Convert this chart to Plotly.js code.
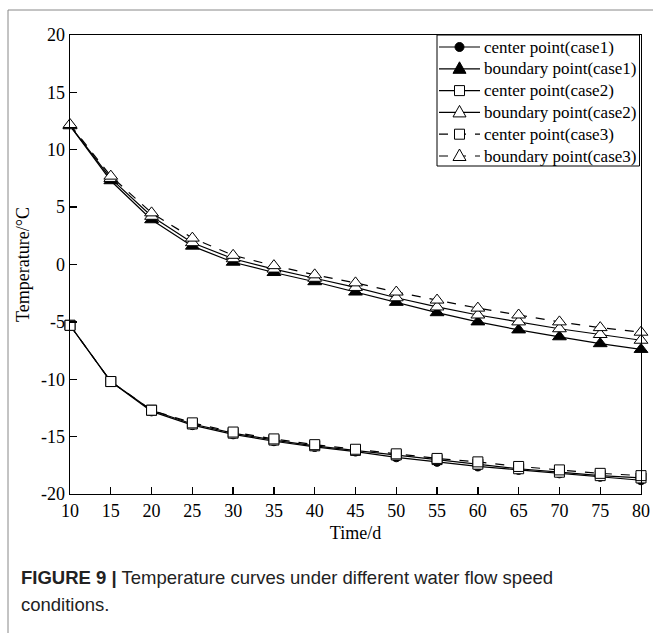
<!DOCTYPE html>
<html><head><meta charset="utf-8">
<script src="https://cdn.plot.ly/plotly-3.0.1.min.js"></script>
<style>html,body{margin:0;padding:0;background:#fff;}#chart{width:653px;height:633px;}</style>
</head><body><div id="chart"></div>
<script>
const days = [10,15,20,25,30,35,40,45,50,55,60,65,70,75,80];
const centerCase1 = [-5.3,-10.2,-12.8,-14.0,-14.8,-15.4,-15.9,-16.3,-16.8,-17.2,-17.6,-17.9,-18.2,-18.5,-18.8];
const boundaryCase1 = [12.1,7.3,3.9,1.6,0.2,-0.7,-1.5,-2.4,-3.3,-4.2,-5.0,-5.7,-6.3,-6.9,-7.4];
const centerCase2 = [-5.3,-10.2,-12.7,-13.9,-14.7,-15.3,-15.8,-16.2,-16.6,-17.0,-17.4,-17.8,-18.1,-18.4,-18.6];
const boundaryCase2 = [12.1,7.5,4.2,1.9,0.5,-0.4,-1.2,-2.0,-2.9,-3.7,-4.4,-5.0,-5.6,-6.1,-6.6];
const centerCase3 = [-5.3,-10.2,-12.7,-13.8,-14.6,-15.2,-15.7,-16.1,-16.5,-16.9,-17.2,-17.6,-17.9,-18.2,-18.4];
const boundaryCase3 = [12.2,7.7,4.5,2.3,0.8,-0.1,-0.9,-1.6,-2.4,-3.1,-3.8,-4.4,-5.0,-5.5,-5.9];
const seriesNames = ['center point(case1)','boundary point(case1)','center point(case2)','boundary point(case2)','center point(case3)','boundary point(case3)'];
const seriesSymbols = ['circle','triangle-up','square','triangle-up','square','triangle-up'];
const seriesFills = ['#000','#000','#fff','#fff','#fff','#fff'];
const seriesDash = ['solid','solid','solid','solid','dash','dash'];
const xTicks = [10,15,20,25,30,35,40,45,50,55,60,65,70,75,80];
const yTickVals = [-20,-15,-10,-5,0,5,10,15,20];
const yTickText = ['-20','-15','-10','-5','0','5','10','15','20'];
const xTitle = 'Time/d';
const yTitle = 'Temperature/°C';
const captionLine1 = '<b>FIGURE 9 |</b> Temperature curves under different water flow speed';
const captionLine2 = 'conditions.';

const seriesValues = [centerCase1, boundaryCase1, centerCase2, boundaryCase2, centerCase3, boundaryCase3];
const markerSize = {'circle':9, 'triangle-up':12, 'square':10};

const data = seriesValues.map((vals, i) => ({
  x: days, y: vals, name: seriesNames[i], type:'scatter', mode:'lines+markers', cliponaxis:false, showlegend:false,
  line:{color:'#000', width:1.2, dash: seriesDash[i]},
  marker:{symbol: seriesSymbols[i], size: markerSize[seriesSymbols[i]], color: seriesFills[i], line:{color:'#000', width:1}}
}));

// plot area geometry (pixels) for paper-coordinate conversion of layout decorations
const L = 70, R = 641, T = 35, B = 494;
const px = x => (x - L) / (R - L);
const py = y => (B - y) / (B - T);

const serif = 'Liberation Serif, Times New Roman, serif';
const sans = 'Liberation Sans, Arial, sans-serif';

const shapes = [
  {type:'line', xref:'paper', yref:'paper', x0:px(8), x1:px(655), y0:py(10), y1:py(10), line:{color:'#888', width:1}},
  {type:'line', xref:'paper', yref:'paper', x0:px(8), x1:px(8), y0:py(10), y1:py(636), line:{color:'#888', width:1}},
  // legend box
  {type:'rect', xref:'paper', yref:'paper', x0:px(437), x1:px(639.5), y0:py(35), y1:py(166), fillcolor:'#fff', line:{color:'#000', width:1}}
];
const annotations = [];
const rowY0 = 47, rowStep = 21.8;
seriesNames.forEach((name, i) => {
  const yy = rowY0 + rowStep * i;
  shapes.push({type:'line', xref:'paper', yref:'paper', x0:px(439), x1:px(480), y0:py(yy), y1:py(yy),
    line:{color:'#000', width:1.2, dash: seriesDash[i] === 'dash' ? 'dash' : 'solid'}});
  const sym = seriesSymbols[i];
  const base = {xref:'paper', yref:'paper', xsizemode:'pixel', ysizemode:'pixel', xanchor:px(459.5), yanchor:py(yy),
    fillcolor: seriesFills[i], line:{color:'#000', width:1}};
  if (sym === 'circle') shapes.push(Object.assign({type:'circle', x0:-4.5, x1:4.5, y0:-4.5, y1:4.5}, base));
  else if (sym === 'square') shapes.push(Object.assign({type:'rect', x0:-5, x1:5, y0:-5, y1:5}, base));
  else shapes.push(Object.assign({type:'path', path:'M-6.5,-4.5 L6.5,-4.5 L0,7 Z'}, base));
  annotations.push({xref:'paper', yref:'paper', x:px(482), y:py(yy), xanchor:'left', yanchor:'middle', showarrow:false,
    text:name, font:{family:serif, size:17, color:'#000'}});
});
annotations.push(
  {xref:'paper', yref:'paper', x:px(19), y:py(577), xanchor:'left', yanchor:'middle', align:'left', showarrow:false,
   text:captionLine1, font:{family:sans, size:18.5, color:'#222'}},
  {xref:'paper', yref:'paper', x:px(19), y:py(604), xanchor:'left', yanchor:'middle', align:'left', showarrow:false,
   text:captionLine2, font:{family:sans, size:18.5, color:'#222'}}
);

const layout = {
  width:653, height:633,
  margin:{l:L, r:653-R, t:T, b:633-B},
  paper_bgcolor:'#fff', plot_bgcolor:'#fff',
  font:{family: serif, size:16, color:'#000'},
  showlegend:false,
  xaxis:{range:[10,80], tickmode:'array', tickvals:xTicks, ticks:'inside', ticklen:7, tickwidth:1.3, tickcolor:'#000',
    showline:true, linecolor:'#000', linewidth:1.3, mirror:true, showgrid:false, zeroline:false,
    tickfont:{family:serif, size:18, color:'#000'},
    title:{text:xTitle, font:{family:serif, size:18, color:'#000'}, standoff:6}},
  yaxis:{range:[-20,20], tickmode:'array', tickvals:yTickVals, ticktext:yTickText, ticks:'inside', ticklen:7, tickwidth:1.3, tickcolor:'#000',
    showline:true, linecolor:'#000', linewidth:1.3, mirror:true, showgrid:false, zeroline:false,
    tickfont:{family:serif, size:18, color:'#000'},
    title:{text:yTitle, font:{family:serif, size:18, color:'#000'}, standoff:6}},
  shapes: shapes,
  annotations: annotations
};
Plotly.newPlot('chart', data, layout, {displayModeBar:false, staticPlot:true});
</script></body></html>
